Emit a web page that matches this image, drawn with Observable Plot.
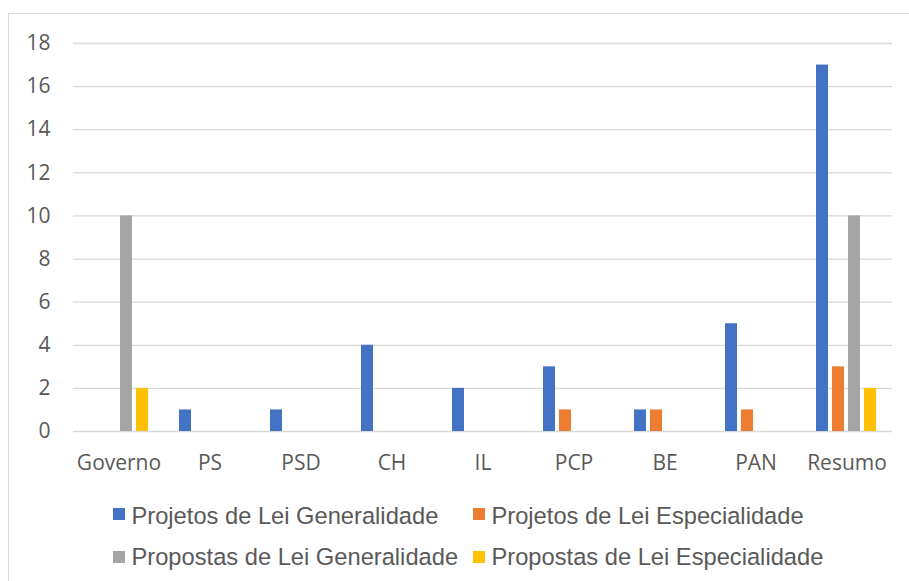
<!DOCTYPE html>
<html>
<head>
<meta charset="utf-8">
<script src="https://cdn.jsdelivr.net/npm/d3@7"></script>
<script src="https://cdn.jsdelivr.net/npm/@observablehq/plot@0.6"></script>
<style>
  html, body { margin: 0; padding: 0; background: #fff; overflow: hidden; }
  #wrap { position: relative; width: 909px; height: 581px; overflow: hidden; }
  #frame { position: absolute; left: 8px; top: 12.5px; width: 1000px; height: 700px;
           border-left: 1.5px solid #d9d9d9; border-top: 1.5px solid #d9d9d9; box-sizing: border-box; }
  #chart { position: absolute; left: 0; top: 0; }
  .leg { position: absolute; font-family: "Liberation Sans", Arial, sans-serif; font-size: 23.7px;
         color: #595959; white-space: nowrap; line-height: 1; }
  .sw { position: absolute; width: 12px; height: 12px; }
</style>
</head>
<body>
<div id="wrap">
  <div id="frame"></div>
  <div id="chart"></div>
  <div id="legend"></div>
</div>
<script>
const categories = ["Governo", "PS", "PSD", "CH", "IL", "PCP", "BE", "PAN", "Resumo"];
const seriesNames = [
  "Projetos de Lei Generalidade",
  "Projetos de Lei Especialidade",
  "Propostas de Lei Generalidade",
  "Propostas de Lei Especialidade"
];
const projetosGeneralidade   = [0, 1, 1, 4, 2, 3, 1, 5, 17];
const projetosEspecialidade  = [0, 0, 0, 0, 0, 1, 1, 1, 3];
const propostasGeneralidade  = [10, 0, 0, 0, 0, 0, 0, 0, 10];
const propostasEspecialidade = [2, 0, 0, 0, 0, 0, 0, 0, 2];
const yTicks = [0, 2, 4, 6, 8, 10, 12, 14, 16, 18];
const colors = ["#4472C4", "#ED7D31", "#A5A5A5", "#FFC000"];

const seriesValues = [projetosGeneralidade, projetosEspecialidade, propostasGeneralidade, propostasEspecialidade];
const data = [];
categories.forEach((c, i) => {
  seriesNames.forEach((s, j) => data.push({category: c, series: s, value: seriesValues[j][i]}));
});

const chart = Plot.plot({
  width: 909,
  height: 490,
  marginLeft: 73,
  marginRight: 17,
  marginTop: 43,
  marginBottom: 59,
  style: {fontFamily: "'Open Sans', sans-serif", fontSize: "21px", color: "#595959", background: "transparent", overflow: "visible"},
  fx: {domain: categories, padding: 0, axis: "bottom", label: null, tickSize: 0, tickPadding: 24},
  x: {domain: seriesNames, axis: null, paddingInner: 0.225, paddingOuter: 0.887},
  y: {domain: [0, 18], ticks: yTicks, tickSize: 0, tickPadding: 23, label: null},
  color: {domain: seriesNames, range: colors},
  marks: [
    Plot.ruleY(yTicks, {stroke: "#d9d9d9", strokeWidth: 1.3}),
    Plot.barY(data, {fx: "category", x: "series", y: "value", fill: "series", filter: d => d.value > 0})
  ]
});
document.getElementById("chart").appendChild(chart);

// legend
const legend = document.getElementById("legend");
const legPos = [
  {sx: 113, sy: 508, tx: 131.5, ty: 504.5},
  {sx: 473, sy: 508, tx: 491.5, ty: 504.5},
  {sx: 113, sy: 551, tx: 131.5, ty: 545.5},
  {sx: 473, sy: 551, tx: 491.5, ty: 545.5}
];
seriesNames.forEach((s, j) => {
  const p = legPos[j];
  const sw = document.createElement("div");
  sw.className = "sw";
  sw.style.left = p.sx + "px"; sw.style.top = p.sy + "px"; sw.style.background = colors[j];
  legend.appendChild(sw);
  const t = document.createElement("div");
  t.className = "leg";
  t.style.left = p.tx + "px"; t.style.top = p.ty + "px";
  t.textContent = s;
  legend.appendChild(t);
});
</script>
</body>
</html>
